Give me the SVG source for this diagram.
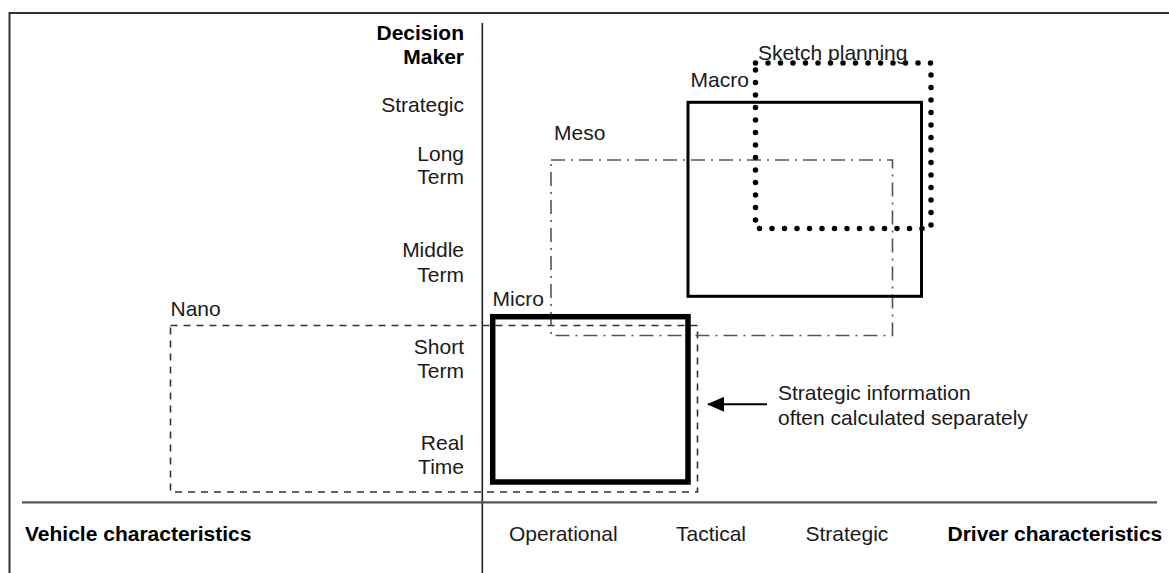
<svg xmlns="http://www.w3.org/2000/svg" width="1169" height="573" viewBox="0 0 1169 573">
  <style>
    text { font-family: "Liberation Sans", Arial, Helvetica, sans-serif; font-size: 21px; fill: #1a1a1a; }
    .b { font-weight: bold; fill: #000; }
    .r { text-anchor: end; }
    .frame { fill: none; stroke: #333; stroke-width: 2; }
    .axis { fill: none; stroke: #222; stroke-width: 1.6; }
    .base { fill: none; stroke: #555; stroke-width: 2.2; }
    .micro { fill: none; stroke: #000; stroke-width: 5.5; }
    .macro { fill: none; stroke: #000; stroke-width: 3; }
    .meso { fill: none; stroke: #555; stroke-width: 1.6; stroke-dasharray: 14 6 2 6; }
    .nano { fill: none; stroke: #333; stroke-width: 1.6; stroke-dasharray: 7 6; }
    .sketch { fill: none; stroke: #000; stroke-width: 5.5; stroke-linecap: round; stroke-dasharray: 0 12.5; }
    .arrow { fill: none; stroke: #000; stroke-width: 2; }
  </style>
  <defs>
    <marker id="ah" markerWidth="17" markerHeight="15" refX="16" refY="7.5" orient="auto" markerUnits="userSpaceOnUse" viewBox="0 0 17 15">
      <path d="M0,0 L17,7.5 L0,15 Z" fill="#000"/>
    </marker>
  </defs>
  <rect width="1169" height="573" fill="#fff"/>

  <g id="frame">
    <path class="frame" d="M9.5,580 V13 H1175"/>
    <line class="axis" x1="482.3" y1="23" x2="482.3" y2="580"/>
    <line class="base" x1="22" y1="502.3" x2="1157" y2="502.3"/>
  </g>

  <g id="y-axis-labels">
    <text class="b r" x="464" y="39.5">Decision</text>
    <text class="b r" x="464" y="63.5">Maker</text>
    <text class="r" x="464" y="111.5">Strategic</text>
    <text class="r" x="464" y="161">Long</text>
    <text class="r" x="464" y="183.5">Term</text>
    <text class="r" x="464" y="257">Middle</text>
    <text class="r" x="464" y="281.5">Term</text>
    <text class="r" x="464" y="353.5">Short</text>
    <text class="r" x="464" y="378">Term</text>
    <text class="r" x="464" y="450">Real</text>
    <text class="r" x="464" y="474">Time</text>
  </g>

  <g id="x-axis-labels">
    <text class="b" x="25" y="541">Vehicle characteristics</text>
    <text x="509" y="541">Operational</text>
    <text x="676" y="541">Tactical</text>
    <text x="805.5" y="541">Strategic</text>
    <text class="b" x="947.5" y="541">Driver characteristics</text>
  </g>

  <g id="nano">
    <rect class="nano" x="170.5" y="325.5" width="527" height="166.5"/>
    <text x="170.5" y="315.7">Nano</text>
  </g>

  <g id="meso">
    <rect class="meso" x="551" y="160" width="341.5" height="175.5"/>
    <text x="554" y="140">Meso</text>
  </g>

  <g id="macro">
    <rect class="macro" x="688" y="102.3" width="233.5" height="194"/>
    <text x="690.5" y="87.3">Macro</text>
  </g>

  <g id="sketch-planning">
    <rect class="sketch" x="755.5" y="63" width="175.5" height="165.5"/>
    <text x="758" y="60">Sketch planning</text>
  </g>

  <g id="micro">
    <rect class="micro" x="492.7" y="316.7" width="195.3" height="165.3"/>
    <text x="492.5" y="306">Micro</text>
  </g>

  <g id="note">
    <text x="778" y="399.5">Strategic information</text>
    <text x="778" y="424.5">often calculated separately</text>
  </g>

  <g id="connectors">
    <line class="arrow" x1="767" y1="404.3" x2="708" y2="404.3" marker-end="url(#ah)"/>
  </g>
</svg>
